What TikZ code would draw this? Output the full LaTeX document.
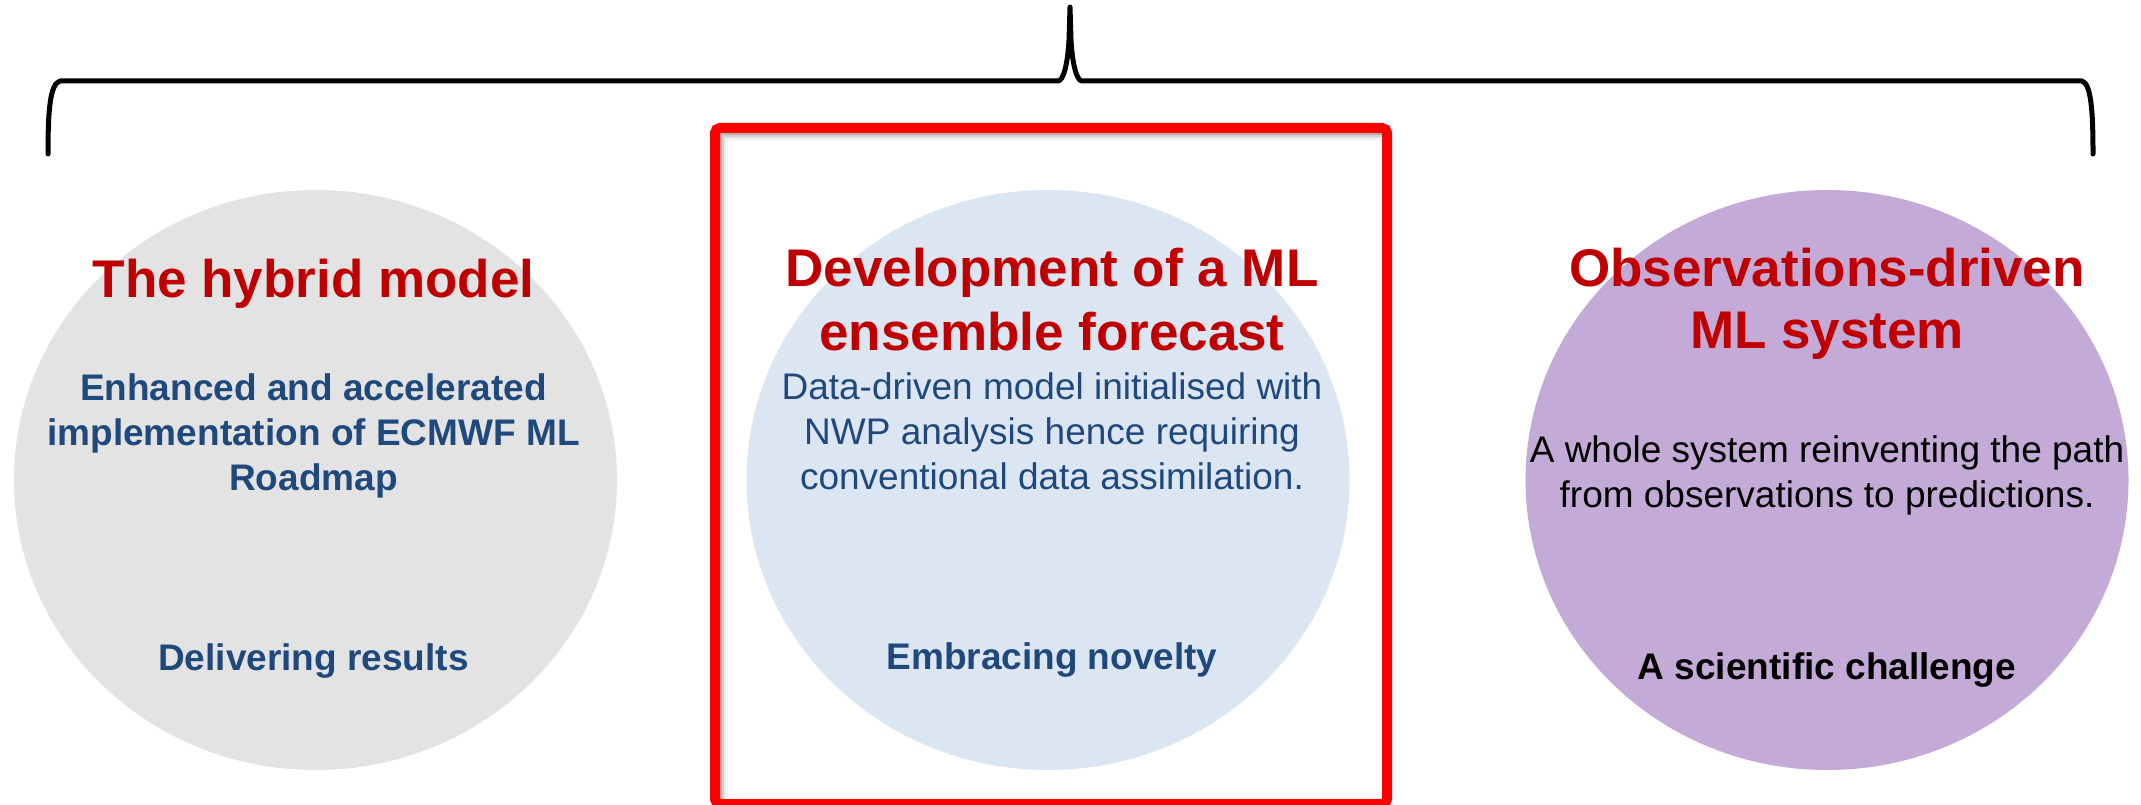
\documentclass[tikz,border=0pt]{standalone}
\usepackage{fontspec}
\setmainfont{Liberation Sans}
\usetikzlibrary{shapes.geometric}
\definecolor{hybridgrey}{HTML}{E3E3E3}
\definecolor{ensblue}{HTML}{DCE6F2}
\definecolor{obspurple}{HTML}{C4ABD7}
\definecolor{titlered}{HTML}{C00000}
\definecolor{textblue}{HTML}{1F497D}
\tikzset{
  disc/.style={ellipse, inner sep=0pt, minimum width=603pt, minimum height=580pt, draw=none},
  titletext/.style={inner sep=0pt, align=center, text=titlered, font=\fontsize{53}{64}\selectfont\bfseries},
  bodybold/.style={inner sep=0pt, align=center, text=textblue, font=\fontsize{37}{45}\selectfont\bfseries},
  bodyreg/.style={inner sep=0pt, align=center, text=textblue, font=\fontsize{37}{45}\selectfont},
  bracestroke/.style={draw=black, line width=5pt, line join=round, line cap=round},
  focusbox/.style={draw=red, line width=10pt, rounded corners=5pt, inner sep=0pt, minimum width=672pt, minimum height=676pt},
  boxshade/.style={draw=black, line width=2pt}
}
\begin{document}
\begin{tikzpicture}[x=1pt,y=-1pt]
\useasboundingbox[fill=white] (0,0) rectangle (2141,805);
% discs
\node[disc, fill=hybridgrey] (hyb) at (315.5,480) {};
\node[disc, fill=ensblue] (ens) at (1048,480) {};
\node[disc, fill=obspurple] (obs) at (1827,480) {};
% inner shadow of the highlight box
\foreach \d/\o in {6/0.30,8/0.18,10/0.09,12/0.04}{
  \draw[boxshade, opacity=\o] (715+\d,800) -- (715+\d,128+\d) -- (1382,128+\d);
}
% highlight box
\node[focusbox] (box) at (1051,466) {};
% brace
\coordinate (bl) at (48,154);
\coordinate (br) at (2093,154);
\coordinate (btip) at (1070,7);
\draw[bracestroke] (bl) .. controls (48,110) and (50,84) .. (60,81) -- (1058,81)
  .. controls (1064,81) and (1068,60) .. (1069,40) -- (btip) -- (1071,40)
  .. controls (1072,60) and (1076,81) .. (1082,81) -- (2082,81)
  .. controls (2091,84) and (2093,110) .. (br);
% left texts
\node[titletext, anchor=base] (hybt) at (313.5,297) {The hybrid model};
\node[bodybold] (hybb) at (313.5,436.4) {Enhanced and accelerated\\implementation of ECMWF ML\\Roadmap};
\node[bodybold, anchor=base] (hybf) at (313.5,670) {Delivering results};
% middle texts
\node[titletext] (enst) at (1052,299.8) {Development of a ML\\ensemble forecast};
\node[bodyreg] (ensb) at (1052,431.7) {Data-driven model initialised with\\NWP analysis hence requiring\\conventional data assimilation.};
\node[bodybold, anchor=base] (ensf) at (1052,669) {Embracing novelty};
% right texts
\node[titletext, font=\fontsize{53}{62}\selectfont\bfseries] (obst) at (1827,304.2) {Observations-driven\\ML system};
\node[bodyreg, text=black, font=\fontsize{37}{45}\selectfont] (obsb) at (1827,475) {A whole system reinventing the path\\from observations to predictions.};
\node[bodybold, text=black, anchor=base] (obsf) at (1827,679) {A scientific challenge};
\end{tikzpicture}
\end{document}
